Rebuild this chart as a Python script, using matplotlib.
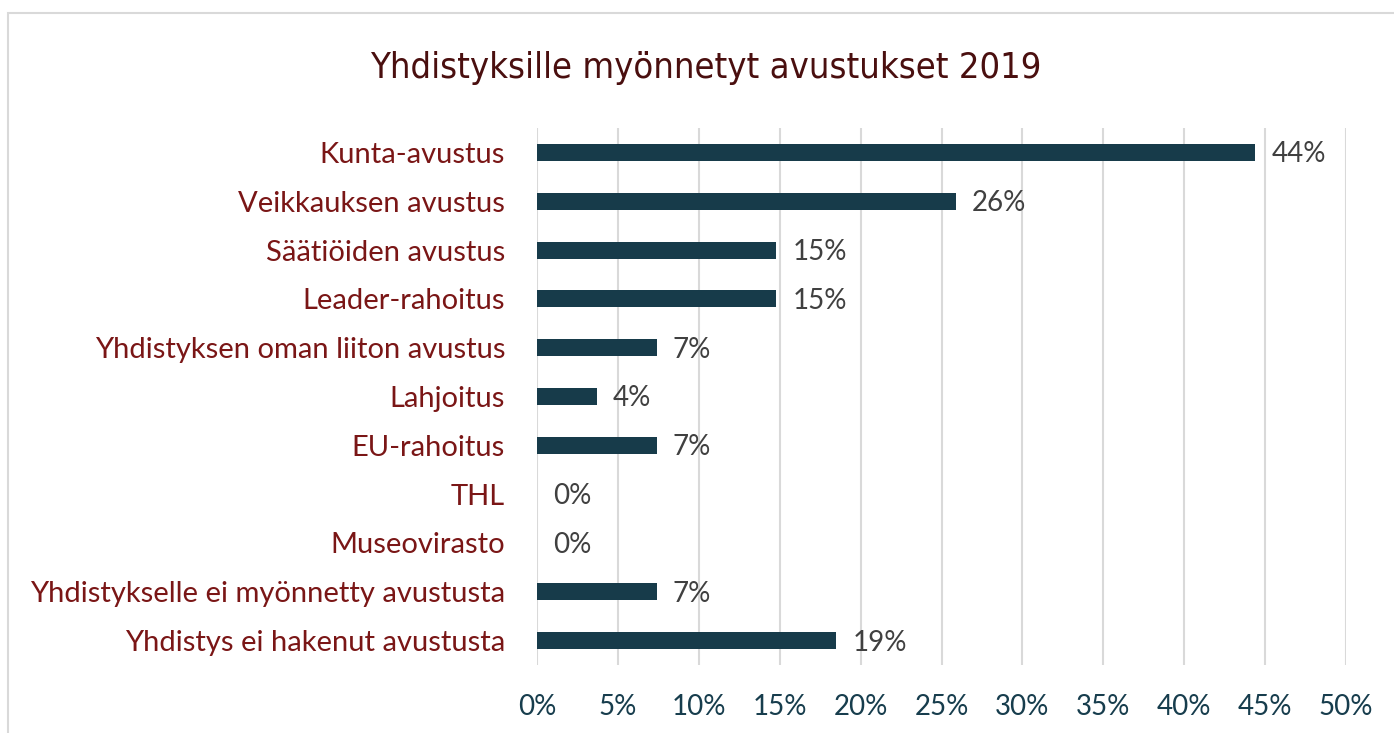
import matplotlib
matplotlib.use("Agg")
import matplotlib.pyplot as plt
from matplotlib.patches import Rectangle
from matplotlib.ticker import MultipleLocator, FuncFormatter

categories = [
    "Kunta-avustus",
    "Veikkauksen avustus",
    "Säätiöiden avustus",
    "Leader-rahoitus",
    "Yhdistyksen oman liiton avustus",
    "Lahjoitus",
    "EU-rahoitus",
    "THL",
    "Museovirasto",
    "Yhdistykselle ei myönnetty avustusta",
    "Yhdistys ei hakenut avustusta",
]
values = [44.4, 25.9, 14.8, 14.8, 7.4, 3.7, 7.4, 0.0, 0.0, 7.4, 18.5]
value_labels = ["44%", "26%", "15%", "15%", "7%", "4%", "7%", "0%", "0%", "7%", "19%"]
title = "Yhdistyksille myönnetyt avustukset 2019"

FONT = ["Lato", "DejaVu Sans"]
W, H = 1394, 733
fig = plt.figure(figsize=(W / 100, H / 100), dpi=100)
fig.patch.set_facecolor("white")

# chart border
fig.add_artist(Rectangle((8 / W, -0.1), 1.2, 1 - 13 / H + 0.1, transform=fig.transFigure,
                         fill=False, edgecolor="#d9d9d9", linewidth=1.5))

ax = fig.add_axes([537 / W, 1 - 665 / H, (1346 - 537) / W, (665 - 128) / H])
y = list(range(len(categories)))
ax.barh(y, values, height=0.35, color="#173b4a", zorder=3)
ax.set_xlim(0, 50)
ax.set_ylim(len(categories) - 0.5, -0.5)
ax.xaxis.set_major_locator(MultipleLocator(5))
ax.xaxis.set_major_formatter(FuncFormatter(lambda v, p: f"{int(round(v))}%"))
ax.grid(axis="x", color="#d9d9d9", linewidth=1.5, zorder=0)
for s in ax.spines.values():
    s.set_visible(False)
ax.tick_params(axis="both", length=0)
ax.tick_params(axis="x", pad=21, labelsize=20, labelcolor="#173d4d")
ax.set_yticks(y)
ax.set_yticklabels(categories, fontsize=21, color="#7a1616", family=FONT)
ax.tick_params(axis="y", pad=23)
for lbl in ax.get_xticklabels():
    lbl.set_family(FONT)

for yi, v, t in zip(y, values, value_labels):
    ax.text(v + 1.0, yi + 0.04, t, va="center", ha="left", fontsize=20, color="#404040",
            family=FONT)

fig.text(706 / W, 1 - 68 / H, title, ha="center", va="center", fontsize=26,
         color="#4a0f0f", family=["Liberation Sans Narrow", "DejaVu Sans"],
         fontstretch="condensed")

fig.savefig("out.png", dpi=100, facecolor="white")
